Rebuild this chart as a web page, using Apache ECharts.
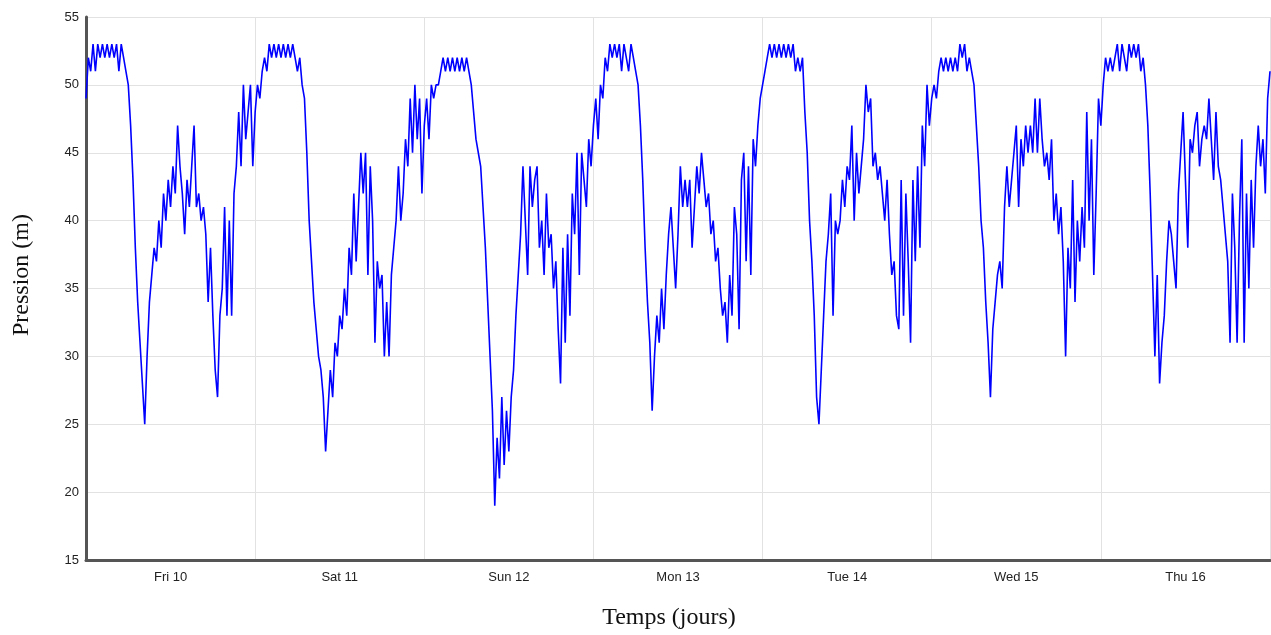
<!DOCTYPE html>
<html>
<head>
<meta charset="utf-8">
<title>Pression</title>
<script src="https://cdn.jsdelivr.net/npm/echarts@6/dist/echarts.min.js"></script>
<style>
  html, body { margin: 0; padding: 0; background: #ffffff; }
  #chart { width: 1271px; height: 635px; }
</style>
</head>
<body>
<div id="chart"></div>
<script>
// Pressure readings (m), one every 20 minutes, one array per day.
const friValues = [49,52,51,53,51,53,52,53,52,53,52,53,52,53,51,53,52,51,50,47,43,38,34,31,28,25,30,34,36,38,37,40,38,42,40,43,41,44,42,47,44,42,39,43,41,44,47,41,42,40,41,39,34,38,33,29,27,33,35,41,33,40,33,42,44,48,44,50,46,48,50,44];
const satValues = [48,50,49,51,52,51,53,52,53,52,53,52,53,52,53,52,53,52,51,52,50,49,45,40,37,34,32,30,29,27,23,26,29,27,31,30,33,32,35,33,38,36,42,37,41,45,42,45,36,44,40,31,37,35,36,30,34,30,36,38,40,44,40,42,46,44,49,45,50,46,49,42];
const sunValues = [47,49,46,50,49,50,50,51,52,51,52,51,52,51,52,51,52,51,52,51,50,48,46,45,44,41,38,34,30,26,19,24,21,27,22,26,23,27,29,33,36,39,44,40,36,44,41,43,44,38,40,36,42,38,39,35,37,32,28,38,31,39,33,42,39,45,36,45,43,41,46,44];
const monValues = [47,49,46,50,49,52,51,53,52,53,52,53,51,53,52,51,53,52,51,50,47,43,38,34,31,26,30,33,31,35,32,36,39,41,38,35,39,44,41,43,41,43,38,41,44,42,45,43,41,42,39,40,37,38,35,33,34,31,36,33,41,39,32,43,45,37,44,36,46,44,47,49];
const tueValues = [50,51,52,53,52,53,52,53,52,53,52,53,52,53,51,52,51,52,48,45,40,37,33,27,25,29,33,37,39,42,33,40,39,40,43,41,44,43,47,40,45,42,44,46,50,48,49,44,45,43,44,42,40,43,39,36,37,33,32,43,33,42,37,31,43,37,44,38,47,44,50,47];
const wedValues = [49,50,49,51,52,51,52,51,52,51,52,51,53,52,53,51,52,51,50,47,44,40,38,34,31,27,32,34,36,37,35,41,44,41,43,45,47,41,46,44,47,45,47,45,49,45,49,46,44,45,43,46,40,42,39,41,37,30,38,35,43,34,40,37,41,38,48,40,46,36,42,49];
const thuValues = [47,50,52,51,52,51,52,53,51,53,52,51,53,52,53,52,53,51,52,50,47,42,36,30,36,28,31,33,37,40,39,37,35,42,45,48,43,38,46,45,47,48,44,46,47,46,49,46,43,48,44,43,41,39,37,31,42,38,31,40,46,31,42,35,43,38,44,47,44,46,42,49,51];

const dayLabels = ['Fri 10', 'Sat 11', 'Sun 12', 'Mon 13', 'Tue 14', 'Wed 15', 'Thu 16'];
const yTicks = [15, 20, 25, 30, 35, 40, 45, 50, 55];

const STEP_HOURS = 20 / 60;
const allValues = [].concat(friValues, satValues, sunValues, monValues, tueValues, wedValues, thuValues);
const seriesData = allValues.map((v, i) => [i * STEP_HOURS, v]);
const labelHours = dayLabels.map((_, d) => d * 24 + 12);

const chart = echarts.init(document.getElementById('chart'), null, { renderer: 'canvas' });
chart.setOption({
  animation: false,
  backgroundColor: '#ffffff',
  grid: { left: 86, right: 1, top: 17, bottom: 75, containLabel: false },
  xAxis: {
    type: 'value',
    min: 0,
    max: dayLabels.length * 24,
    interval: 24,
    axisLine: { show: true, onZero: false, lineStyle: { color: '#555555', width: 3 } },
    axisTick: { show: false },
    splitLine: { show: true, lineStyle: { color: '#e2e2e2', width: 1 } },
    axisLabel: {
      customValues: labelHours,
      formatter: (v) => dayLabels[Math.round((v - 12) / 24)] || '',
      color: '#222222',
      fontFamily: 'Liberation Sans, Arial, sans-serif',
      fontSize: 13,
      margin: 11
    }
  },
  yAxis: {
    type: 'value',
    min: yTicks[0],
    max: yTicks[yTicks.length - 1],
    interval: 5,
    axisLine: { show: true, lineStyle: { color: '#555555', width: 3 } },
    axisTick: { show: false },
    splitLine: { show: true, lineStyle: { color: '#e2e2e2', width: 1 } },
    axisLabel: {
      color: '#222222',
      fontFamily: 'Liberation Sans, Arial, sans-serif',
      fontSize: 13,
      margin: 7
    }
  },
  graphic: [
    {
      type: 'text',
      x: 22, y: 275,
      rotation: Math.PI / 2,
      style: {
        text: 'Pression (m)',
        font: '24px "Liberation Serif", "Times New Roman", serif',
        fill: '#111111',
        align: 'center',
        verticalAlign: 'middle'
      }
    },
    {
      type: 'text',
      x: 669, y: 618,
      style: {
        text: 'Temps (jours)',
        font: '24px "Liberation Serif", "Times New Roman", serif',
        fill: '#111111',
        align: 'center',
        verticalAlign: 'middle'
      }
    }
  ],
  series: [{
    type: 'line',
    data: seriesData,
    showSymbol: false,
    sampling: 'none',
    lineStyle: { color: '#0000ff', width: 1.6 },
    emphasis: { disabled: true }
  }]
});
</script>
</body>
</html>
